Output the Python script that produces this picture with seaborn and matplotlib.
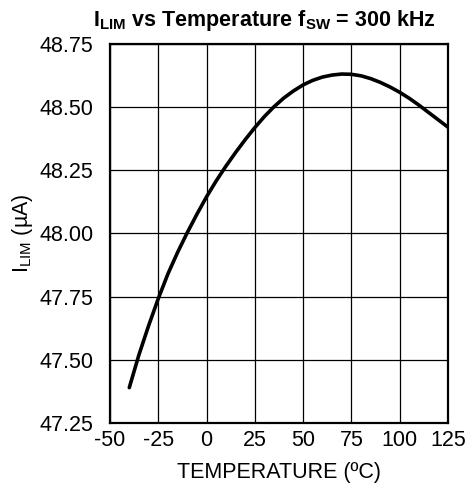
"""Current limit vs temperature curve (fSW = 300 kHz)."""

import matplotlib
matplotlib.use("Agg")
import matplotlib.pyplot as plt
import pandas as pd
import seaborn as sns

# values
temperature_c = [-40, -35, -30, -25, -20, -15, -10, -5, 0, 5, 10, 15, 20, 25,
                 30, 35, 40, 45, 50, 55, 60, 65, 70, 75, 80, 85, 90, 95, 100,
                 105, 110, 115, 120, 125]
ilim_ua = [47.39, 47.52, 47.635, 47.742, 47.84, 47.925, 48.003, 48.076, 48.145,
           48.208, 48.266, 48.32, 48.371, 48.419, 48.463, 48.502, 48.536,
           48.564, 48.588, 48.606, 48.619, 48.627, 48.631, 48.630, 48.624,
           48.613, 48.598, 48.58, 48.559, 48.535, 48.508, 48.479, 48.45, 48.421]

x_ticks = [-50, -25, 0, 25, 50, 75, 100, 125]
y_ticks = [47.25, 47.50, 47.75, 48.00, 48.25, 48.50, 48.75]


def main() -> None:
    sns.set_theme(style="white")
    plt.rcParams["font.family"] = ["Liberation Sans", "DejaVu Sans"]
    plt.rcParams["mathtext.fontset"] = "custom"
    plt.rcParams["mathtext.rm"] = "Liberation Sans"
    plt.rcParams["mathtext.bf"] = "Liberation Sans:bold"
    plt.rcParams["mathtext.it"] = "Liberation Sans:italic"

    df = pd.DataFrame({"temp": temperature_c, "ilim": ilim_ua})

    fig = plt.figure(figsize=(4.68, 4.87), dpi=100)
    ax = fig.add_axes([0.235, 0.1314, 0.722, 0.7783])

    sns.lineplot(data=df, x="temp", y="ilim", color="black", linewidth=2.6, ax=ax)

    ax.set_xlim(-50, 125)
    ax.set_ylim(47.25, 48.75)
    ax.set_xticks(x_ticks)
    ax.set_yticks(y_ticks)
    ax.set_xticklabels([str(t) for t in x_ticks])
    ax.set_yticklabels([f"{t:.2f}" for t in y_ticks])
    ax.tick_params(axis="both", length=0, labelsize=15.5, colors="black")
    ax.tick_params(axis="x", pad=5)
    ax.tick_params(axis="y", pad=12)

    ax.grid(True, color="black", linewidth=0.9)
    for spine in ax.spines.values():
        spine.set_color("black")
        spine.set_linewidth(1.6)

    ax.set_xlabel("TEMPERATURE (ºC)", fontsize=15.5, color="black", labelpad=8)
    ax.set_ylabel(r"I$_{\mathrm{LIM}}$ (µA)", fontsize=15.5, color="black", labelpad=3)

    fig.text(0.565, 0.947,
             r"I$_{\mathbf{LIM}}$ vs Temperature f$_{\mathbf{SW}}$ = 300 kHz",
             ha="center", va="baseline", fontsize=15.5, fontweight="bold", color="black")

    fig.savefig("out.png", dpi=100)
    plt.close(fig)


if __name__ == "__main__":
    main()
